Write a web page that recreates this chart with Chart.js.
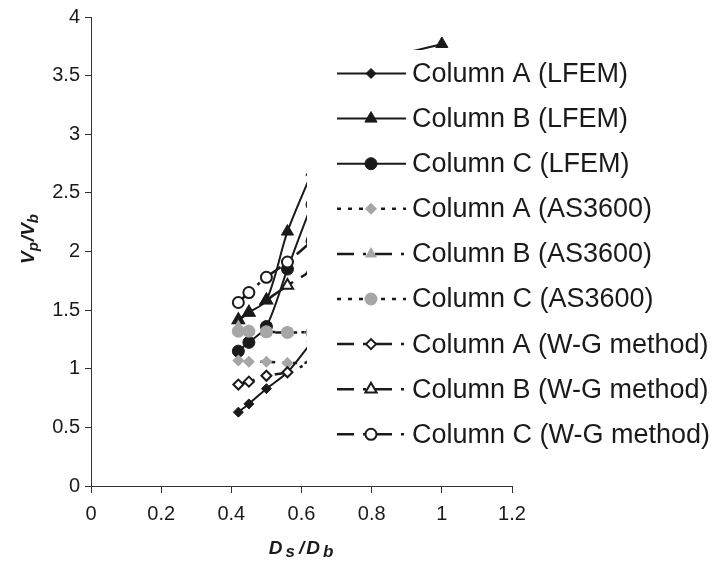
<!DOCTYPE html>
<html><head><meta charset="utf-8">
<script src="https://cdn.jsdelivr.net/npm/chart.js@4.4.0/dist/chart.umd.min.js"></script>
<style>html,body{margin:0;padding:0;background:#fff;}#wrap{width:716px;height:561px;position:relative;}</style>
</head><body><div id="wrap"><canvas id="c" width="716" height="561"></canvas></div>
<script>
// ---- data (points beyond x≈0.6 are hidden behind the legend and estimated) ----
const xValues   = [0.42, 0.45, 0.50, 0.56, 0.63, 0.71, 0.83, 1.00];
const colALfem  = [0.63, 0.70, 0.83, 0.97, 1.23, 1.50, 1.85, 2.30];
const colBLfem  = [1.415, 1.48, 1.585, 2.17, 2.68, 3.28, 3.62, 3.77];
const colCLfem  = [1.15, 1.225, 1.36, 1.85, 2.40, 2.90, 3.30, 3.55];
const colAAs    = [1.07, 1.06, 1.06, 1.05, 1.05, 1.04, 1.04, 1.03];
const colBAs    = [1.36, 1.32, 1.31, 1.31, 1.31, 1.30, 1.30, 1.29];
const colCAs    = [1.32, 1.32, 1.315, 1.31, 1.31, 1.30, 1.30, 1.29];
const colAWg    = [0.865, 0.89, 0.94, 0.97, 1.06, 1.16, 1.32, 1.55];
const colBWg    = [1.415, 1.48, 1.585, 1.71, 1.84, 2.00, 2.25, 2.60];
const colCWg    = [1.565, 1.65, 1.78, 1.91, 2.09, 2.30, 2.62, 3.05];
const seriesNames = ['Column A (LFEM)','Column B (LFEM)','Column C (LFEM)',
  'Column A (AS3600)','Column B (AS3600)','Column C (AS3600)',
  'Column A (W-G method)','Column B (W-G method)','Column C (W-G method)'];
const xTicks = [0, 0.2, 0.4, 0.6, 0.8, 1.0, 1.2];
const xTickLabels = ['0','0.2','0.4','0.6','0.8','1','1.2'];
const yTicks = [0, 0.5, 1, 1.5, 2, 2.5, 3, 3.5, 4];
const yTickLabels = ['0','0.5','1','1.5','2','2.5','3','3.5','4'];

const BLACK = '#1a1a1a', GRAY = '#a6a6a6';
const DOT = [4, 7], DASHDOT = [17, 9, 3, 9];
const allSeries = [colALfem, colBLfem, colCLfem, colAAs, colBAs, colCAs, colAWg, colBWg, colCWg];
// drawing order: higher "order" is drawn first (underneath)
const drawOrder = [9, 7, 8, 6, 5, 4, 3, 10, 1];
const styles = [
  {dash: [], w: 2, ps: 'rectRot', r: 5, fill: BLACK, stroke: BLACK, bw: 1},
  {dash: [], w: 2, ps: 'triangle', r: 7, fill: BLACK, stroke: BLACK, bw: 1},
  {dash: [], w: 2, ps: 'circle', r: 6, fill: BLACK, stroke: BLACK, bw: 1},
  {dash: DOT, w: 2.5, ps: 'rectRot', r: 6, fill: GRAY, stroke: GRAY, bw: 0},
  {dash: DASHDOT, w: 2.5, ps: 'triangle', r: 7, fill: GRAY, stroke: GRAY, bw: 0},
  {dash: DOT, w: 2.5, ps: 'circle', r: 6.5, fill: GRAY, stroke: GRAY, bw: 0},
  {dash: DASHDOT, w: 2.5, ps: 'rectRot', r: 5, fill: '#ffffff', stroke: BLACK, bw: 2},
  {dash: DASHDOT, w: 2.5, ps: 'triangle', r: 6.5, fill: '#ffffff', stroke: BLACK, bw: 2},
  {dash: DASHDOT, w: 2.5, ps: 'circle', r: 5.5, fill: '#ffffff', stroke: BLACK, bw: 2}
];

const datasets = allSeries.map((vals, i) => {
  const s = styles[i];
  return {
    label: seriesNames[i],
    data: xValues.map((x, j) => ({x: x, y: vals[j]})),
    borderColor: BLACK, borderWidth: s.w, borderDash: s.dash,
    pointStyle: s.ps, pointRadius: s.r, pointHoverRadius: s.r,
    pointBackgroundColor: s.fill, pointBorderColor: s.stroke, pointBorderWidth: s.bw,
    tension: 0.3, fill: false, order: drawOrder[i]
  };
});

function drawPt(ctx, ps, r, x, y, bw) {
  if (Chart.helpers && Chart.helpers.drawPoint) {
    Chart.helpers.drawPoint(ctx, {pointStyle: ps, radius: r, rotation: 0, borderWidth: bw}, x, y);
    return;
  }
  ctx.beginPath();
  if (ps === 'circle') ctx.arc(x, y, r, 0, Math.PI * 2);
  else if (ps === 'rectRot') { ctx.moveTo(x - r, y); ctx.lineTo(x, y - r); ctx.lineTo(x + r, y); ctx.lineTo(x, y + r); ctx.closePath(); }
  else { ctx.moveTo(x, y - r); ctx.lineTo(x + r * 0.866, y + r / 2); ctx.lineTo(x - r * 0.866, y + r / 2); ctx.closePath(); }
  ctx.fill(); if (bw > 0) ctx.stroke();
}

const overlayLegend = {
  id: 'overlayLegend',
  afterDatasetsDraw(chart) {
    const ctx = chart.ctx;
    ctx.save();
    ctx.fillStyle = '#ffffff';
    ctx.fillRect(307, 50, 409, 428);
    chart.data.datasets.forEach((ds, i) => {
      const y = 73.5 + i * 45.1;
      ctx.save();
      ctx.strokeStyle = ds.borderColor; ctx.lineWidth = ds.borderWidth;
      ctx.setLineDash(ds.borderDash || []); ctx.lineCap = 'butt';
      ctx.beginPath(); ctx.moveTo(337, y); ctx.lineTo(406, y); ctx.stroke();
      ctx.setLineDash([]);
      ctx.fillStyle = ds.pointBackgroundColor; ctx.strokeStyle = ds.pointBorderColor; ctx.lineWidth = ds.pointBorderWidth;
      drawPt(ctx, ds.pointStyle, ds.pointRadius, 371, y, ds.pointBorderWidth);
      ctx.restore();
      ctx.fillStyle = '#1a1a1a';
      ctx.font = '27px "Liberation Sans", Arial, sans-serif';
      ctx.textAlign = 'left'; ctx.textBaseline = 'middle';
      ctx.fillText(ds.label, 412, y + 1);
    });
    ctx.restore();
  }
};

function richText(ctx, parts, cx, cy) {
  let total = 0;
  parts.forEach(p => { ctx.font = 'italic bold ' + p.size + 'px "Liberation Sans", Arial, sans-serif'; p.w = ctx.measureText(p.t).width + (p.gap || 0); total += p.w; });
  let x = cx - total / 2;
  ctx.textBaseline = 'alphabetic'; ctx.textAlign = 'left';
  parts.forEach(p => {
    ctx.font = 'italic bold ' + p.size + 'px "Liberation Sans", Arial, sans-serif';
    ctx.fillText(p.t, x, cy + (p.dy || 0));
    x += p.w;
  });
}

const axisTitles = {
  id: 'axisTitles',
  afterDraw(chart) {
    const ctx = chart.ctx;
    ctx.save();
    ctx.fillStyle = '#1a1a1a';
    richText(ctx, [
      {t: 'D', size: 19, gap: 3}, {t: 's', size: 17, dy: 3, gap: 4}, {t: '/', size: 19, gap: 2},
      {t: 'D', size: 19, gap: 3}, {t: 'b', size: 17, dy: 3}
    ], 301, 554);
    ctx.translate(34, 239);
    ctx.rotate(-Math.PI / 2);
    richText(ctx, [
      {t: 'V', size: 19}, {t: 'p', size: 15, dy: 4, gap: 1}, {t: '/V', size: 19}, {t: 'b', size: 15, dy: 4}
    ], 0, 0);
    ctx.restore();
  }
};

const tickFont = {family: '"Liberation Sans", Arial, sans-serif', size: 20};

new Chart(document.getElementById('c'), {
  type: 'line',
  data: {datasets: datasets},
  options: {
    responsive: false, animation: false, devicePixelRatio: 1,
    layout: {padding: {left: 0, right: 204, top: 15, bottom: 0}},
    plugins: {legend: {display: false}, tooltip: {enabled: false}},
    elements: {line: {borderCapStyle: 'butt'}},
    scales: {
      x: {
        type: 'linear', min: 0, max: 1.2,
        afterBuildTicks: s => { s.ticks = xTicks.map(v => ({value: v})); },
        afterFit: s => { s.height = 75; },
        ticks: {font: tickFont, color: '#1a1a1a', padding: 9, maxRotation: 0,
          callback: (v) => xTickLabels[xTicks.indexOf(v)] ?? ''},
        grid: {drawOnChartArea: false, drawTicks: true, tickLength: 7, color: '#333', lineWidth: 1},
        border: {display: true, color: '#333', width: 1}
      },
      y: {
        type: 'linear', min: 0, max: 4,
        afterBuildTicks: s => { s.ticks = yTicks.map(v => ({value: v})); },
        afterFit: s => { s.width = 91; },
        ticks: {font: tickFont, color: '#1a1a1a', padding: 5,
          callback: (v) => yTickLabels[yTicks.indexOf(v)] ?? ''},
        grid: {drawOnChartArea: false, drawTicks: true, tickLength: 6, color: '#333', lineWidth: 1},
        border: {display: true, color: '#333', width: 1}
      }
    }
  },
  plugins: [overlayLegend, axisTitles]
});
</script></body></html>
